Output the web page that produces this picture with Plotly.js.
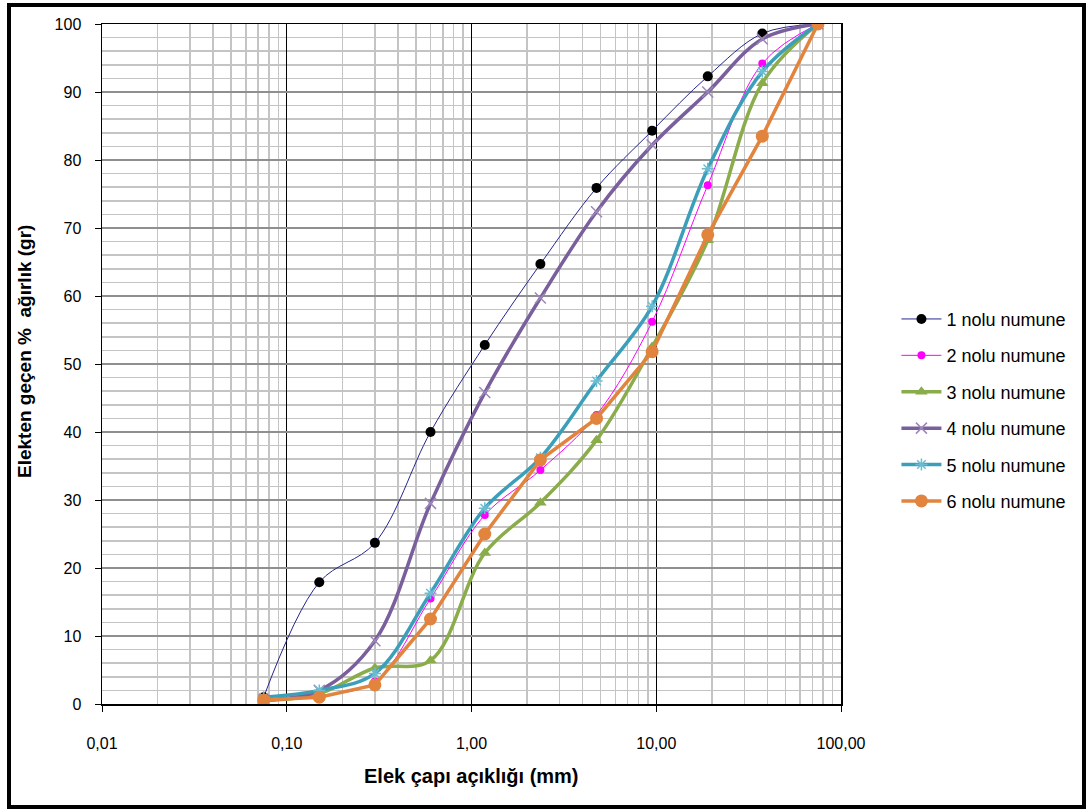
<!DOCTYPE html>
<html>
<head>
<meta charset="utf-8">
<script src="https://cdn.plot.ly/plotly-3.0.1.min.js"></script>
<style>
  html, body { margin: 0; padding: 0; background: #fff; }
  #wrap { position: relative; width: 1086px; height: 809px; }
  #chart { position: absolute; left: 0; top: 0; width: 1086px; height: 809px; }
  #frame { position: absolute; left: 7px; top: 3px; right: 0; bottom: 0;
           border: 4px solid #000; pointer-events: none; }
</style>
</head>
<body>
<div id="wrap">
  <div id="chart"></div>
  <div id="frame"></div>
</div>
<script>
// Sieve openings (mm)
const sieveSizes = [0.075, 0.15, 0.3, 0.6, 1.18, 2.36, 4.75, 9.5, 19, 37.5, 75];

// Percent passing for each sample
const sample1 = [1.0, 17.9, 23.7, 40.0, 52.8, 64.7, 75.9, 84.3, 92.3, 98.6, 100];
const sample2 = [0.5, 1.2, 3.3, 15.5, 27.8, 34.4, 42.5, 56.2, 76.3, 94.2, 100];
const sample3 = [0.5, 1.5, 5.3, 6.4, 22.2, 29.6, 38.8, 52.5, 68.2, 91.3, 100];
const sample4 = [0.6, 2.0, 9.3, 29.5, 45.8, 59.7, 72.4, 82.2, 90.0, 97.8, 100];
const sample5 = [1.0, 2.0, 4.5, 16.3, 28.8, 36.2, 47.5, 58.5, 78.7, 93.0, 100];
const sample6 = [0.6, 1.0, 2.8, 12.5, 25.0, 35.9, 42.0, 51.8, 69.0, 83.5, 100];

const seriesNames = ["1 nolu numune", "2 nolu numune", "3 nolu numune",
                     "4 nolu numune", "5 nolu numune", "6 nolu numune"];

// Axis tick labels and titles
const xTickVals = [0.01, 0.1, 1, 10, 100];
const xTickText = ["0,01", "0,10", "1,00", "10,00", "100,00"];
const xTitle = "Elek çapı açıklığı (mm)";
const yTitle = "Elekten geçen %  ağırlık (gr)";
const xMinorVals = [];
[0.01, 0.1, 1, 10].forEach(dec => {
  for (let k = 2; k <= 9; k++) xMinorVals.push(+(dec * k).toPrecision(3));
});

const styles = [
  { line: { color: "#26268e", width: 1, shape: "spline", smoothing: 1 },
    marker: { symbol: "circle", size: 10, color: "#000" } },
  { line: { color: "#ff00ff", width: 1, shape: "spline", smoothing: 1 },
    marker: { symbol: "circle", size: 8, color: "#ff00ff" } },
  { line: { color: "#8aac4b", width: 3.5, shape: "spline", smoothing: 1 },
    marker: { symbol: "triangle-up", size: 11, color: "#8aac4b" } },
  { line: { color: "#7a5f9d", width: 3.5, shape: "spline", smoothing: 1 },
    marker: { symbol: "x-thin-open", size: 11, color: "#9c88b8", line: { width: 1.5, color: "#9c88b8" } } },
  { line: { color: "#3c9fba", width: 3.5, shape: "spline", smoothing: 1 },
    marker: { symbol: "asterisk-open", size: 10, color: "#6bbcd2", line: { width: 1.5, color: "#6bbcd2" } } },
  { line: { color: "#e2843d", width: 3.5, shape: "linear" },
    marker: { symbol: "circle", size: 13, color: "#e2843d" } }
];

const allSamples = [sample1, sample2, sample3, sample4, sample5, sample6];

const traces = allSamples.map((vals, i) => ({
  type: "scatter",
  mode: "lines+markers",
  x: sieveSizes,
  y: vals,
  name: seriesNames[i],
  legendgroup: "g" + i,
  line: styles[i].line,
  marker: styles[i].marker,
  hoverinfo: "skip"
}));

const sans = "Liberation Sans, Arial, sans-serif";
const plotLeft = 102, plotTop = 24, plotWidth = 1086 - 102 - 245, plotHeight = 809 - 24 - 105;

const layout = {
  width: 1086,
  height: 809,
  margin: { l: plotLeft, r: 245, t: plotTop, b: 105 },
  paper_bgcolor: "#fff",
  plot_bgcolor: "#fff",
  font: { family: sans, size: 14, color: "#000" },
  showlegend: true,
  legend: {
    x: 1.075, xanchor: "left",
    y: 0.432, yanchor: "middle",
    font: { family: sans, size: 18, color: "#000" },
    tracegroupgap: 10,
    itemwidth: 40,
    bgcolor: "rgba(0,0,0,0)"
  },
  // Axis titles placed as annotations around the plot area
  annotations: [{
    xref: "paper", yref: "paper",
    x: (25 - plotLeft) / plotWidth, y: (plotTop + plotHeight - 352) / plotHeight,
    xanchor: "center", yanchor: "middle",
    textangle: -90,
    showarrow: false,
    text: "<b>" + yTitle + "</b>",
    font: { family: sans, size: 19, color: "#000" }
  }, {
    xref: "paper", yref: "paper",
    x: 0.5, y: (plotTop + plotHeight - 776) / plotHeight,
    xanchor: "center", yanchor: "middle",
    showarrow: false,
    text: "<b>" + xTitle + "</b>",
    font: { family: sans, size: 20, color: "#000" }
  }],
  xaxis: {
    type: "log",
    range: [-2, 2],
    tickmode: "array",
    tickvals: xTickVals,
    ticktext: xTickText,
    ticks: "outside",
    ticklen: 6,
    tickcolor: "#000",
    ticklabelstandoff: 18,
    showline: true,
    linecolor: "#000",
    linewidth: 1.5,
    mirror: true,
    showgrid: true,
    gridcolor: "#000",
    gridwidth: 1,
    zeroline: false,
    minor: {
      tickmode: "array",
      tickvals: xMinorVals,
      showgrid: true,
      gridcolor: "#c4c4c4",
      gridwidth: 1.5,
      ticks: ""
    },
    tickfont: { family: sans, size: 16, color: "#000" }
  },
  yaxis: {
    range: [0, 100],
    dtick: 10,
    ticks: "outside",
    ticklen: 6,
    tickcolor: "#000",
    ticklabelstandoff: 10,
    showline: true,
    linecolor: "#000",
    linewidth: 1.5,
    mirror: true,
    showgrid: true,
    gridcolor: "#8f8f8f",
    gridwidth: 1.5,
    zeroline: false,
    minor: {
      dtick: 2,
      showgrid: true,
      gridcolor: "#c4c4c4",
      gridwidth: 1.5,
      ticks: ""
    },
    tickfont: { family: sans, size: 16, color: "#000" }
  }
};

Plotly.newPlot("chart", traces, layout, { displayModeBar: false, staticPlot: true });
</script>
</body>
</html>
